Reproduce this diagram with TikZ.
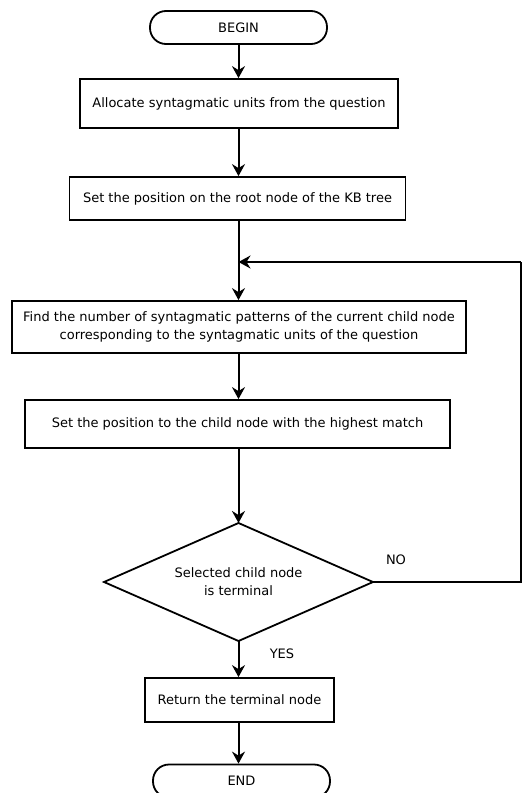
\documentclass[tikz,border=0pt]{standalone}
\usepackage{fontspec}
\setmainfont{DejaVu Sans}
\usetikzlibrary{shapes.geometric,arrows.meta}
\begin{document}
\begin{tikzpicture}[x=1pt,y=-1pt,
  every node/.style={font=\fontsize{13}{18}\selectfont},
  proc/.style={draw,line width=1.8pt,rectangle,inner sep=0pt,align=center},
  termbox/.style={draw,line width=1.8pt,rounded corners=16pt,minimum width=177pt,minimum height=33pt},
  flow/.style={line width=2pt,-{Stealth[length=12pt,width=13pt,inset=4pt]}},
  line/.style={line width=2pt}]
\useasboundingbox (0,0) rectangle (523,793);
\coordinate (ax) at (238.5,0);
\node[termbox] (begin) at (238.5,27.5) {BEGIN};
\node[proc,minimum width=318pt,minimum height=49pt] (b1) at (239,103.5) {Allocate syntagmatic units from the question};
\node[proc,minimum width=336pt,minimum height=43pt] (b2) at (237.5,198.5) {Set the position on the root node of the KB tree};
\node[proc,minimum width=454pt,minimum height=52pt] (b3) at (239,327) {Find the number of syntagmatic patterns of the current child node\\corresponding to the syntagmatic units of the question};
\node[proc,minimum width=425pt,minimum height=48pt] (b4) at (237.5,424) {Set the position to the child node with the highest match};
\draw[line width=1.8pt] (238.5,523) coordinate (dtop) -- (373,582) coordinate (dright) -- (238.5,641) coordinate (dbot) -- (104,582) coordinate (dleft) -- cycle;
\node (dtext) at (238.5,582) [align=center] {Selected child node\\is terminal};
\node[proc,minimum width=189pt,minimum height=44pt] (b5) at (239.5,700) {Return the terminal node};
\node[termbox] (end) at (241.5,781) {END};
\node (no) at (396,560) {NO};
\node (yes) at (282,654) {YES};
\coordinate (r1) at (521,582);
\coordinate (r2) at (521,262);
\coordinate (m) at (238.5,262);
\draw[flow] (begin.south-|ax) -- (b1.north-|ax);
\draw[flow] (b1.south-|ax) -- (b2.north-|ax);
\draw[flow] (b2.south-|ax) -- (b3.north-|ax);
\draw[flow] (r2) -- (m);
\draw[line] (dright) -- (r1) -- (r2);
\draw[flow] (b3.south-|ax) -- (b4.north-|ax);
\draw[flow] (b4.south-|ax) -- (dtop);
\draw[flow] (dbot) -- (b5.north-|ax);
\draw[flow] (b5.south-|ax) -- (end.north-|ax);
\end{tikzpicture}
\end{document}
